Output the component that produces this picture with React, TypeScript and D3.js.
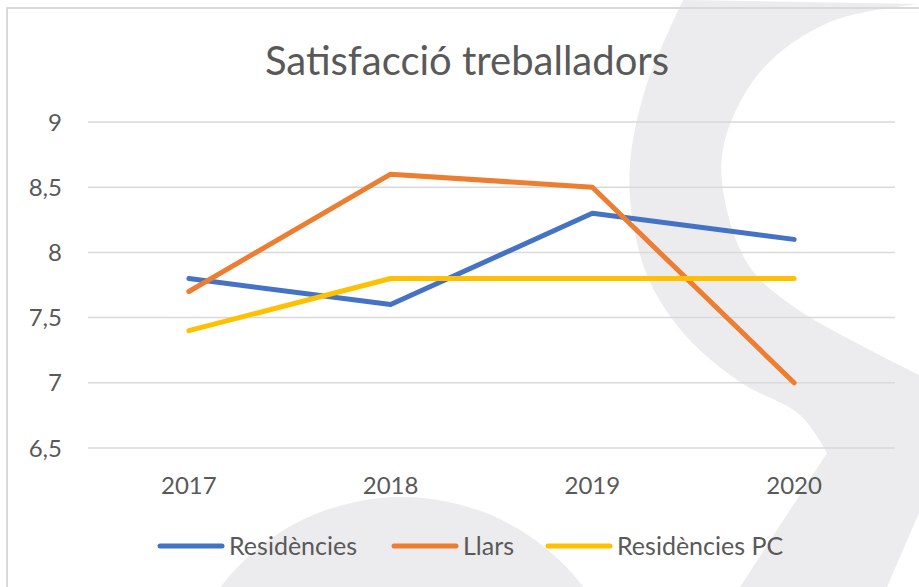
import * as d3 from "d3";
import { useEffect, useRef } from "react";

const years = ["2017", "2018", "2019", "2020"];
const residencies = [7.8, 7.6, 8.3, 8.1];
const llars = [7.7, 8.6, 8.5, 7.0];
const residenciesPC = [7.4, 7.8, 7.8, 7.8];
const yTicks = [6.5, 7, 7.5, 8, 8.5, 9];

const seriesNames = ["Residències", "Llars", "Residències PC"];
const seriesColors = ["#4472c4", "#ed7d31", "#ffc000"];

// faint logo watermark behind the chart
const wmOuter: [number, number][] = [
  [683, 0], [645, 90], [630, 164], [633, 223], [650, 282], [685, 335], [740, 382], [800, 415], [827, 453],
];
const wmInner: [number, number][] = [
  [919, 375], [870, 350], [797, 309], [752, 270], [728, 215], [723, 149], [760, 72], [830, 22], [919, 4],
];

export default function App() {
  const ref = useRef<SVGSVGElement>(null);

  useEffect(() => {
    if (!ref.current) return;
    const svg = d3.select(ref.current);
    svg.selectAll("*").remove();

    const width = 919,
      height = 587,
      margin = { top: 122, right: 24, bottom: 139, left: 88 };
    const font = "Lato, 'Open Sans', sans-serif";
    const textColor = "#595959";
    const wmColor = "#ececef";

    svg.attr("width", width).attr("height", height);
    svg.append("rect").attr("width", width).attr("height", height).attr("fill", "#fff");

    // watermark
    const curve = d3.line().curve(d3.curveCatmullRom);
    const outerD = curve(wmOuter)!;
    const innerD = curve(wmInner)!;
    svg.append("path")
      .attr("d", `${outerD} L740,587 L887,587 L919,513 L${innerD.slice(1)} Z`)
      .attr("fill", wmColor);
    svg.append("path")
      .attr("d", d3.arc()({ innerRadius: 0, outerRadius: 228, startAngle: -Math.PI, endAngle: Math.PI } as any))
      .attr("transform", "translate(402,725)")
      .attr("fill", wmColor);

    // frame
    svg.append("path")
      .attr("d", `M7,${height} L7,8 L${width},8`)
      .attr("fill", "none")
      .attr("stroke", "#d9d9d9")
      .attr("stroke-width", 2);

    const x = d3
      .scaleBand()
      .domain(years)
      .range([margin.left, width - margin.right]);

    const y = d3
      .scaleLinear()
      .domain([6.5, 9])
      .range([height - margin.bottom, margin.top]);

    // grid lines
    svg.append("g")
      .selectAll("line")
      .data(yTicks)
      .join("line")
      .attr("x1", margin.left)
      .attr("x2", width - margin.right)
      .attr("y1", (d) => y(d))
      .attr("y2", (d) => y(d))
      .attr("stroke", "#d9d9d9")
      .attr("stroke-width", 1.5);

    // y labels
    svg.append("g")
      .selectAll("text")
      .data(yTicks)
      .join("text")
      .attr("x", 62)
      .attr("y", (d) => y(d))
      .attr("dy", "0.36em")
      .attr("text-anchor", "end")
      .attr("font-family", font)
      .attr("font-size", 24)
      .attr("fill", textColor)
      .text((d) => String(d).replace(".", ","));

    // x labels
    svg.append("g")
      .selectAll("text")
      .data(years)
      .join("text")
      .attr("x", (d) => x(d)! + x.bandwidth() / 2)
      .attr("y", 494)
      .attr("text-anchor", "middle")
      .attr("font-family", font)
      .attr("font-size", 24)
      .attr("fill", textColor)
      .text((d) => d);

    // title
    svg.append("text")
      .attr("x", 467)
      .attr("y", 75)
      .attr("text-anchor", "middle")
      .attr("font-family", font)
      .attr("font-size", 40)
      .attr("fill", textColor)
      .text("Satisfacció treballadors");

    const allSeries = [residencies, llars, residenciesPC];
    const line = d3
      .line<number>()
      .x((_, i) => x(years[i])! + x.bandwidth() / 2)
      .y((d) => y(d));

    allSeries.forEach((vals, i) => {
      svg.append("path")
        .datum(vals)
        .attr("fill", "none")
        .attr("stroke", seriesColors[i])
        .attr("stroke-width", 5)
        .attr("stroke-linecap", "round")
        .attr("stroke-linejoin", "round")
        .attr("d", line);
    });

    // legend
    const legendX = [158, 392, 546];
    seriesNames.forEach((name, i) => {
      const g = svg.append("g").attr("transform", `translate(${legendX[i]},546)`);
      g.append("line")
        .attr("x1", 2)
        .attr("x2", 64)
        .attr("stroke", seriesColors[i])
        .attr("stroke-width", 5)
        .attr("stroke-linecap", "round");
      g.append("text")
        .attr("x", 71)
        .attr("dy", "0.36em")
        .attr("font-family", font)
        .attr("font-size", 25)
        .attr("fill", textColor)
        .text(name);
    });
  }, []);

  return <svg ref={ref} style={{ position: "absolute", left: 0, top: 0, display: "block" }} />;
}
